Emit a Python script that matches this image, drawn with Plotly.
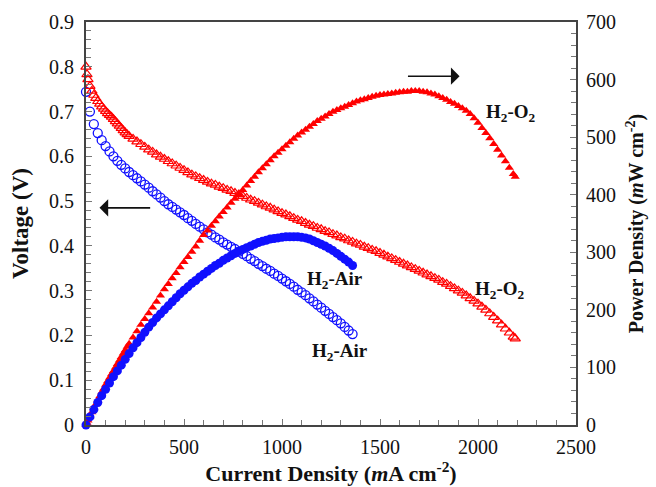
import plotly.graph_objects as go

# ---------------- data ----------------
# H2-O2 cell
o2_current = [0, 5, 10, 20, 30, 40, 50, 60, 70, 80, 90, 100, 110, 120, 130, 140, 150, 160, 170, 180, 190, 200, 210,
              220, 240, 260, 280, 300, 320, 340, 360, 380, 400,
              420, 440, 460, 480, 500, 520, 540, 560, 580, 600,
              620, 640, 660, 680, 700, 720, 740, 760, 780, 800,
              820, 840, 860, 880, 900, 920, 940, 960, 980, 1000,
              1020, 1040, 1060, 1080, 1100, 1120, 1140, 1160, 1180, 1200,
              1220, 1240, 1260, 1280, 1300, 1320, 1340, 1360, 1380, 1400,
              1420, 1440, 1460, 1480, 1500, 1520, 1540, 1560, 1580, 1600,
              1620, 1640, 1660, 1680, 1700, 1720, 1740, 1760, 1780, 1800,
              1820, 1840, 1860, 1880, 1900, 1920, 1940, 1960, 1980, 2000,
              2020, 2040, 2060, 2080, 2100, 2120, 2140, 2160, 2180, 2190]
o2_voltage = [0.800, 0.783, 0.772, 0.757, 0.746, 0.737, 0.730, 0.723, 0.717, 0.711, 0.706, 0.701, 0.696, 0.692,
              0.688, 0.683, 0.678, 0.673, 0.668, 0.663, 0.658, 0.653, 0.649,
              0.645, 0.639, 0.633, 0.627, 0.621, 0.615, 0.610, 0.604, 0.599, 0.594,
              0.589, 0.584, 0.579, 0.574, 0.569, 0.564, 0.559, 0.555, 0.551, 0.547,
              0.543, 0.539, 0.536, 0.532, 0.529, 0.525, 0.522, 0.518, 0.515, 0.511,
              0.507, 0.503, 0.500, 0.496, 0.492, 0.488, 0.485, 0.481, 0.477, 0.473,
              0.470, 0.466, 0.462, 0.458, 0.455, 0.451, 0.447, 0.444, 0.440, 0.437,
              0.433, 0.430, 0.426, 0.423, 0.419, 0.416, 0.412, 0.409, 0.405, 0.402,
              0.398, 0.395, 0.391, 0.388, 0.384, 0.380, 0.376, 0.372, 0.368, 0.364,
              0.360, 0.356, 0.352, 0.348, 0.344, 0.340, 0.336, 0.332, 0.328, 0.324,
              0.319, 0.315, 0.310, 0.305, 0.300, 0.295, 0.289, 0.283, 0.277, 0.271,
              0.264, 0.257, 0.249, 0.241, 0.233, 0.224, 0.215, 0.206, 0.197, 0.193]
o2_power = [0, 4, 8, 15, 22, 29, 36, 43, 50, 57, 63, 70, 76, 82, 88, 94, 100, 106, 112, 118, 124, 130, 136,
            141, 152, 163, 174, 184, 194, 204, 214, 225, 236,
            245, 255, 264, 274, 283, 292, 301, 310, 320, 330,
            338, 346, 354, 362, 370, 378, 386, 393, 401, 408,
            416, 424, 431, 439, 446, 453, 460, 467, 473, 479,
            485, 491, 497, 503, 508, 513, 518, 523, 528, 532,
            536, 540, 544, 547, 550, 553, 556, 559, 562, 564,
            566, 568, 570, 572, 573, 574, 575, 576, 577, 578,
            579, 579, 580, 580, 580, 579, 578, 576, 574, 571,
            568, 565, 561, 558, 554, 550, 546, 540, 533, 525,
            516, 507, 498, 488, 478, 468, 458, 447, 436, 431]

# H2-Air cell
air_current = [0, 20, 40, 60, 80, 100, 120, 140, 160, 180,
               200, 220, 240, 260, 280, 300, 320, 340, 360, 380,
               400, 420, 440, 460, 480, 500, 520, 540, 560, 580,
               600, 620, 640, 660, 680, 700, 720, 740, 760, 780,
               800, 820, 840, 860, 880, 900, 920, 940, 960, 980,
               1000, 1020, 1040, 1060, 1080, 1100, 1120, 1140, 1160, 1180,
               1200, 1220, 1240, 1260, 1280, 1300, 1320, 1340, 1360]
air_voltage = [0.744, 0.700, 0.672, 0.652, 0.636, 0.623, 0.611, 0.600, 0.590, 0.581,
               0.573, 0.565, 0.558, 0.551, 0.544, 0.537, 0.530, 0.522, 0.515, 0.508,
               0.500, 0.493, 0.487, 0.481, 0.475, 0.469, 0.462, 0.456, 0.449, 0.443,
               0.437, 0.430, 0.425, 0.419, 0.414, 0.408, 0.403, 0.398, 0.393, 0.387,
               0.382, 0.377, 0.371, 0.366, 0.360, 0.355, 0.349, 0.344, 0.338, 0.333,
               0.327, 0.321, 0.315, 0.309, 0.302, 0.296, 0.290, 0.283, 0.276, 0.269,
               0.262, 0.255, 0.248, 0.241, 0.234, 0.227, 0.219, 0.211, 0.203]
air_power = [0, 14, 27, 39, 51, 62, 73, 84, 94, 104,
             114, 124, 134, 143, 152, 161, 170, 178, 186, 193,
             200, 207, 214, 221, 228, 234, 240, 246, 251, 257,
             262, 267, 272, 277, 281, 286, 290, 294, 298, 302,
             305, 308, 311, 314, 317, 319, 321, 323, 324, 325,
             326, 327, 327, 327, 327, 326, 325, 323, 320, 317,
             314, 311, 307, 303, 298, 293, 288, 283, 277]

x_ticks = [0, 500, 1000, 1500, 2000, 2500]

RED = "#ff0000"
BLUE = "#1010ff"
SERIF = "Liberation Serif"
INK = "#111111"

fig = go.Figure()
fig.add_trace(go.Scatter(x=air_current, y=air_voltage, mode="markers", cliponaxis=False,
                         marker=dict(symbol="circle-open", size=9, color=BLUE, line=dict(width=1.3, color=BLUE)),
                         showlegend=False))
fig.add_trace(go.Scatter(x=o2_current, y=o2_voltage, mode="markers", cliponaxis=False,
                         marker=dict(symbol="triangle-up-open", size=9, color=RED, line=dict(width=1.2, color=RED)),
                         showlegend=False))
fig.add_trace(go.Scatter(x=o2_current, y=o2_power, mode="markers", yaxis="y2", cliponaxis=False,
                         marker=dict(symbol="triangle-up", size=8, color=RED, line=dict(width=0)),
                         showlegend=False))
fig.add_trace(go.Scatter(x=air_current, y=air_power, mode="markers", yaxis="y2", cliponaxis=False,
                         marker=dict(symbol="circle", size=9, color=BLUE, line=dict(width=0)),
                         showlegend=False))

axis_line = dict(showline=True, linecolor="#444444", linewidth=2, showgrid=False, zeroline=False,
                 ticks="inside", ticklen=6, tickcolor="#777777", tickwidth=1,
                 tickfont=dict(family=SERIF, size=20, color=INK))

fig.update_layout(
    width=656, height=487,
    margin=dict(l=86, r=80, t=22, b=62),
    paper_bgcolor="white", plot_bgcolor="white",
    xaxis=dict(range=[0, 2500], tickvals=x_ticks, mirror=True, ticklabelstandoff=3,
               minor=dict(dtick=100, ticks="inside", ticklen=5, tickcolor="#777777"),
               title=dict(text="<b>Current Density (<i>m</i>A cm<sup>-2</sup>)</b>",
                          font=dict(family=SERIF, size=22, color=INK), standoff=0),
               **axis_line),
    yaxis=dict(range=[0, 0.9], dtick=0.1, ticklabelstandoff=6,
               minor=dict(dtick=0.02, ticks="inside", ticklen=5, tickcolor="#777777"),
               title=dict(text="<b>Voltage (V)</b>", font=dict(family=SERIF, size=23, color=INK), standoff=14),
               **axis_line),
    yaxis2=dict(range=[0, 700], dtick=100, overlaying="y", side="right", ticklabelstandoff=4,
                minor=dict(dtick=20, ticks="inside", ticklen=5, tickcolor="#777777"),
                title=dict(text="<b>Power Density (<i>m</i>W cm<sup>-2</sup>)</b>",
                           font=dict(family=SERIF, size=20, color=INK), standoff=14),
                **axis_line),
)

label_font = dict(family=SERIF, size=19, color=INK)
labels = [
    ("<b>H<sub>2</sub>-Air</b>", 1268, 0.324),
    ("<b>H<sub>2</sub>-Air</b>", 1295, 0.163),
    ("<b>H<sub>2</sub>-O<sub>2</sub></b>", 2166, 0.697),
    ("<b>H<sub>2</sub>-O<sub>2</sub></b>", 2110, 0.301),
]
for txt, xx, yy in labels:
    fig.add_annotation(x=xx, y=yy, xref="x", yref="y", text=txt, showarrow=False, font=label_font)

# direction arrows
fig.add_annotation(x=69, y=0.485, ax=335, ay=0.485, xref="x", yref="y", axref="x", ayref="y",
                   text="", showarrow=True, arrowhead=1, arrowsize=1.8, arrowwidth=1.6, arrowcolor=INK)
fig.add_annotation(x=1906, y=0.779, ax=1635, ay=0.779, xref="x", yref="y", axref="x", ayref="y",
                   text="", showarrow=True, arrowhead=1, arrowsize=1.8, arrowwidth=1.6, arrowcolor=INK)

fig.write_html("out.html")
